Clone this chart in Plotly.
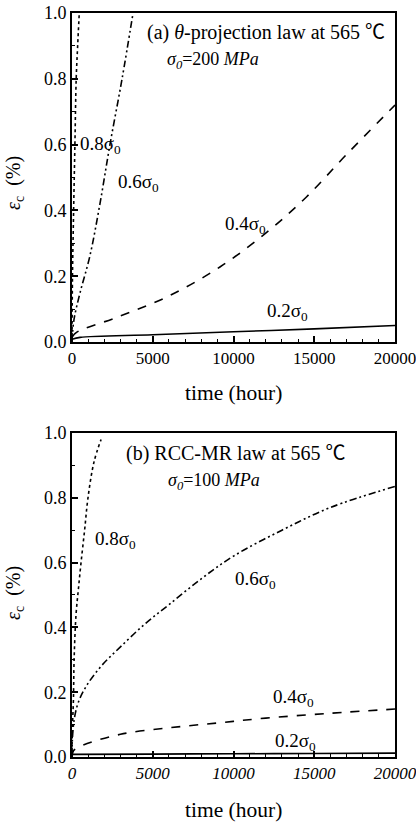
import plotly.graph_objects as go

# ---------------- data ----------------
# (a) theta-projection law, sigma0 = 200 MPa
a_t_08 = [0, 30, 100, 180, 260, 350, 450]
a_e_08 = [0, 0.2, 0.4, 0.6, 0.8, 0.9, 1.0]
a_t_06 = [0, 120, 500, 1100, 1730, 2350, 3100, 3780]
a_e_06 = [0, 0.067, 0.15, 0.26, 0.42, 0.6, 0.8, 1.0]
a_t_04 = [0, 300, 2660, 5880, 9160, 12070, 14500, 17000, 20000]
a_e_04 = [0.015, 0.03, 0.073, 0.137, 0.228, 0.334, 0.44, 0.57, 0.72]
a_t_02 = [0, 500, 5000, 10000, 15000, 20000]
a_e_02 = [0.008, 0.014, 0.022, 0.031, 0.04, 0.05]

# (b) RCC-MR law, sigma0 = 100 MPa
b_t_08 = [0, 20, 90, 130, 250, 400, 560, 780, 990, 1360, 1800]
b_e_08 = [0, 0.08, 0.18, 0.3, 0.44, 0.52, 0.6, 0.7, 0.8, 0.91, 0.98]
b_t_06 = [0, 30, 150, 400, 900, 1800, 3000, 4500, 6000, 8000, 10000, 13000, 16000, 20000]
b_e_06 = [0, 0.06, 0.12, 0.17, 0.22, 0.28, 0.34, 0.41, 0.47, 0.55, 0.62, 0.70, 0.77, 0.835]
b_t_04 = [0, 100, 700, 3000, 6000, 9000, 12000, 16000, 20000]
b_e_04 = [0, 0.02, 0.037, 0.07, 0.09, 0.105, 0.12, 0.135, 0.148]
b_t_02 = [0, 5000, 10000, 15000, 20000]
b_e_02 = [0.008, 0.009, 0.01, 0.011, 0.012]

x_ticks = [0, 5000, 10000, 15000, 20000]
x_tick_text = ["0", "5000", "10000", "15000", "20000"]
y_ticks = [0.0, 0.2, 0.4, 0.6, 0.8, 1.0]
y_tick_text = ["0.0", "0.2", "0.4", "0.6", "0.8", "1.0"]

FONT = "Liberation Serif"
TFONT = "Liberation Serif, Noto Sans CJK SC"
DASHDOT = "7px,3px,2px,3px,2px,3px"

fig = go.Figure()

def add(x, y, dash, xa, ya):
    fig.add_trace(go.Scatter(x=x, y=y, mode="lines", xaxis=xa, yaxis=ya,
                             line=dict(color="black", width=1.6, dash=dash, shape="spline", smoothing=1.0),
                             showlegend=False, hoverinfo="skip"))

add(a_t_08, a_e_08, "dot", "x", "y")
add(a_t_06, a_e_06, DASHDOT, "x", "y")
add(a_t_04, a_e_04, "dash", "x", "y")
add(a_t_02, a_e_02, "solid", "x", "y")
add(b_t_08, b_e_08, "dot", "x2", "y2")
add(b_t_06, b_e_06, DASHDOT, "x2", "y2")
add(b_t_04, b_e_04, "dash", "x2", "y2")
add(b_t_02, b_e_02, "solid", "x2", "y2")

def xaxis(anchor, italic):
    return dict(range=[0, 20000], tickvals=x_ticks, ticktext=x_tick_text, ticks="inside", ticklen=6, tickwidth=1.5,
                tickcolor="black", showline=True, linecolor="black", linewidth=1.8, mirror=True,
                showgrid=False, zeroline=False, anchor=anchor, domain=[0, 1], automargin=False,
                ticklabeloverflow="allow",
                tickfont=dict(family=FONT, size=17, color="black", style="italic" if italic else "normal"),
                minor=dict(ticks="inside", ticklen=3, tickwidth=1.2, tickcolor="black", dtick=1000, showgrid=False))

def yaxis(anchor, domain):
    return dict(range=[0, 1], tickvals=y_ticks, ticktext=y_tick_text, ticks="inside", ticklen=6, tickwidth=1.5,
                tickcolor="black", showline=True, linecolor="black", linewidth=1.8, mirror=True,
                showgrid=False, zeroline=False, anchor=anchor, domain=domain, automargin=False,
                ticklabeloverflow="allow",
                tickfont=dict(family=FONT, size=18, color="black"),
                minor=dict(ticks="inside", ticklen=3, tickwidth=1.2, tickcolor="black", dtick=0.1, showgrid=False))

fig.update_layout(
    template="none",
    width=416, height=823,
    margin=dict(l=72, r=21, t=13, b=66, autoexpand=False),
    paper_bgcolor="white", plot_bgcolor="white",
    font=dict(family=FONT, color="black"),
    xaxis=xaxis("y", False),
    yaxis=yaxis("x", [0.5578, 1.0]),
    xaxis2=xaxis("y2", True),
    yaxis2=yaxis("x2", [0.0, 0.4355]),
)

S = 19
def ann(text, x, y, xr, yr, size=S, family=FONT, **kw):
    d = dict(text=text, x=x, y=y, xref=xr, yref=yr, showarrow=False, xanchor="left",
             yanchor="middle", font=dict(family=family, size=size, color="black"))
    d.update(kw)
    fig.add_annotation(**d)

# panel (a)
ann("(a) <i>θ</i>-projection law at 565 ℃", 4520, 0.94, "x", "y", size=20, family=TFONT)
ann("<i>σ<sub>0</sub></i>=200 <i>MPa</i>", 5760, 0.857, "x", "y", size=18)
ann("0.8σ<sub>0</sub>", 370, 0.6, "x", "y")
ann("0.6σ<sub>0</sub>", 2720, 0.483, "x", "y")
ann("0.4σ<sub>0</sub>", 9350, 0.356, "x", "y")
ann("0.2σ<sub>0</sub>", 11950, 0.09, "x", "y")
# panel (b)
ann("(b) RCC-MR law at 565 ℃", 3220, 0.938, "x2", "y2", size=20, family=TFONT)
ann("<i>σ<sub>0</sub></i>=100 <i>MPa</i>", 5820, 0.849, "x2", "y2", size=18)
ann("0.8σ<sub>0</sub>", 1300, 0.67, "x2", "y2")
ann("0.6σ<sub>0</sub>", 9970, 0.546, "x2", "y2")
ann("0.4σ<sub>0</sub>", 12320, 0.182, "x2", "y2")
ann("0.2σ<sub>0</sub>", 12450, 0.046, "x2", "y2")

# axis titles
for yr, yv in (("y", 0.483), ("y2", 0.506)):
    ann("<i>ε</i><sub>c</sub>  (%)", -0.18, yv, "paper", yr, size=20, textangle=-90, xanchor="center")
ann("time (hour)", 0.5, 0.489, "paper", "paper", size=21.5, xanchor="center")
ann("time (hour)", 0.5, -0.0712, "paper", "paper", size=21.5, xanchor="center")

# remove the default 8 px page margin so the figure sits at the window's corner
fig.write_html("out.html", config={"displayModeBar": False},
               post_script="document.body.style.margin='0';")
